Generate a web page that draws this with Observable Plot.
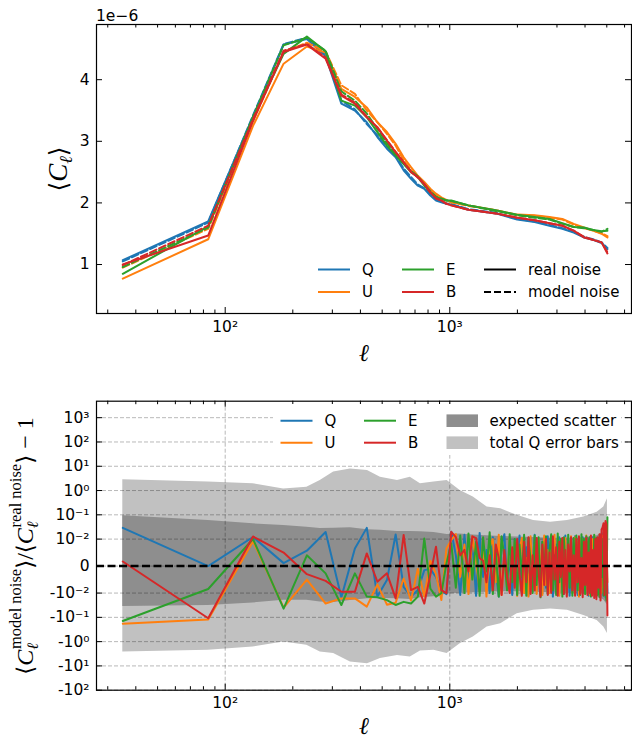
<!DOCTYPE html>
<html><head><meta charset="utf-8">
<script src="https://cdn.jsdelivr.net/npm/d3@7"></script>
<script src="https://cdn.jsdelivr.net/npm/@observablehq/plot@0.6"></script>
<style>
html,body{margin:0;padding:0;background:#fff;}
#wrap{position:relative;width:632px;height:739px;overflow:hidden;background:#fff;}
#wrap svg{position:absolute;left:0;}
</style></head><body><div id="wrap"></div>
<script>
// ---------------- DATA ----------------
const components = ["Q", "U", "E", "B"];
const componentColors = ["#1f77b4", "#ff7f0e", "#2ca02c", "#d62728"];

// top panel: <C_ell> in units of 1e-6
const ellTop = [35, 84, 133, 182, 231, 280, 329, 378, 427, 476,
  525, 574, 623, 672, 721, 770, 819, 868, 917, 966,
  1015, 1211, 1603, 1995, 2387, 2779, 3171, 3563, 3955, 4347, 4739, 5033];
const qReal  = [1.07, 1.70, 3.40, 4.57, 4.66, 4.38, 3.61, 3.50, 3.31, 3.07, 2.88, 2.74, 2.53, 2.39, 2.28, 2.23, 2.12, 2.04, 2.01, 1.985, 1.975, 1.89, 1.83, 1.73, 1.69, 1.63, 1.58, 1.52, 1.44, 1.40, 1.35, 1.25];
const qModel = [1.05, 1.68, 3.42, 4.58, 4.68, 4.40, 3.66, 3.52, 3.28, 3.10, 2.90, 2.76, 2.56, 2.42, 2.30, 2.24, 2.14, 2.05, 2.02, 1.99, 1.98, 1.90, 1.84, 1.74, 1.70, 1.64, 1.59, 1.53, 1.45, 1.41, 1.36, 1.27];
const uReal  = [0.77, 1.41, 3.25, 4.26, 4.54, 4.44, 3.85, 3.72, 3.55, 3.31, 3.15, 2.96, 2.74, 2.58, 2.44, 2.34, 2.23, 2.15, 2.09, 2.05, 2.01, 1.96, 1.88, 1.81, 1.80, 1.77, 1.74, 1.66, 1.60, 1.55, 1.50, 1.44];
const uModel = [0.95, 1.58, 3.33, 4.45, 4.60, 4.46, 3.91, 3.77, 3.50, 3.31, 3.12, 2.93, 2.69, 2.53, 2.42, 2.31, 2.20, 2.12, 2.07, 2.04, 2.01, 1.95, 1.88, 1.80, 1.79, 1.76, 1.73, 1.65, 1.59, 1.55, 1.51, 1.46];
const eReal  = [0.85, 1.62, 3.38, 4.42, 4.70, 4.46, 3.66, 3.58, 3.39, 3.15, 2.93, 2.77, 2.63, 2.50, 2.42, 2.28, 2.17, 2.09, 2.07, 2.04, 2.04, 1.96, 1.88, 1.81, 1.77, 1.74, 1.67, 1.61, 1.60, 1.56, 1.54, 1.55];
const eModel = [0.96, 1.60, 3.40, 4.56, 4.68, 4.47, 3.81, 3.66, 3.45, 3.20, 2.97, 2.80, 2.64, 2.52, 2.43, 2.30, 2.19, 2.10, 2.07, 2.04, 2.03, 1.96, 1.87, 1.80, 1.76, 1.73, 1.66, 1.61, 1.59, 1.56, 1.53, 1.58];
const bReal  = [1.00, 1.47, 3.33, 4.45, 4.57, 4.34, 3.74, 3.61, 3.39, 3.23, 3.01, 2.82, 2.66, 2.50, 2.42, 2.31, 2.17, 2.07, 2.04, 1.985, 1.96, 1.89, 1.83, 1.76, 1.72, 1.67, 1.63, 1.55, 1.44, 1.40, 1.36, 1.18];
const bModel = [0.99, 1.63, 3.36, 4.47, 4.58, 4.36, 3.76, 3.63, 3.40, 3.22, 3.02, 2.83, 2.66, 2.51, 2.41, 2.30, 2.17, 2.08, 2.04, 1.99, 1.96, 1.89, 1.83, 1.76, 1.72, 1.67, 1.63, 1.55, 1.45, 1.40, 1.36, 1.20];
const topYTicks = [1, 2, 3, 4];

// bottom panel: <C model>/<C real> - 1
const ell = [35, 84, 133, 182, 231, 280, 329, 378, 427, 476,
  525, 574, 623, 672, 721, 770, 819, 868, 917, 966,
  1015, 1064, 1113, 1162, 1211, 1260, 1309, 1358, 1407, 1456,
  1505, 1554, 1603, 1652, 1701, 1750, 1799, 1848, 1897, 1946,
  1995, 2044, 2093, 2142, 2191, 2240, 2289, 2338, 2387, 2436,
  2485, 2534, 2583, 2632, 2681, 2730, 2779, 2828, 2877, 2926,
  2975, 3024, 3073, 3122, 3171, 3220, 3269, 3318, 3367, 3416,
  3465, 3514, 3563, 3612, 3661, 3710, 3759, 3808, 3857, 3906,
  3955, 4004, 4053, 4102, 4151, 4200, 4249, 4298, 4347, 4396,
  4445, 4494, 4543, 4592, 4641, 4690, 4739, 4788, 4837, 4886,
  4935, 4984, 5033];
const ratioQ = [0.029, 0.0, 0.0122, 0.0011, 0.0057, 0.0195, -0.0148, 0.0065, 0.029, -0.014,
  -0.0052, 0.0155, -0.0077, -0.014, -0.0089, -0.0015, -0.0011, -0.004, -0.009, -0.011, 0.020,
  0.004, -0.012, 0.015, -0.006, 0.009, -0.013, 0.018, -0.004, 0.006, -0.010,
  0.012, -0.002, -0.014, 0.008, 0.016, -0.007, 0.003, -0.012, 0.010, -0.005,
  0.014, -0.011, 0.002, 0.007, -0.013, 0.011, -0.003, 0.015, -0.009, 0.005,
  -0.012, 0.009, 0.001, -0.008, 0.013, -0.006, 0.010, -0.014, 0.004, 0.008,
  -0.010, 0.012, -0.004, 0.006, -0.011, 0.014, -0.007, 0.002, -0.013, 0.011,
  0.005, -0.009, 0.013, -0.002, -0.012, 0.009, 0.004, -0.008, 0.012, -0.010,
  0.006, -0.005, 0.011, -0.013, 0.003, 0.008, -0.009, 0.012, -0.006, 0.010,
  -0.014, 0.005, 0.009, -0.011, 0.013, -0.008, 0.016, -0.012, 0.020, -0.015,
  0.025, -0.010];
const ratioU = [-0.182, -0.123, 0.0092, -0.040, -0.005, -0.027, -0.0166, -0.0166, -0.036, -0.0068,
  -0.030, -0.025, -0.0046, -0.020, -0.001, -0.014, 0.002, -0.003, -0.0195, 0.0065, 0.0096,
  0.016, -0.004, 0.008, -0.011, 0.013, 0.002, -0.009, 0.011, -0.014, 0.007,
  0.010, -0.006, 0.015, -0.012, 0.004, -0.008, 0.012, -0.003, 0.009, -0.013,
  0.006, 0.011, -0.010, 0.003, -0.014, 0.013, -0.005, 0.008, -0.011, 0.010,
  0.001, -0.012, 0.014, -0.007, 0.006, -0.010, 0.012, -0.004, 0.015, -0.009,
  0.003, -0.013, 0.010, 0.005, -0.008, 0.011, -0.012, 0.007, -0.003, 0.013,
  -0.010, 0.004, 0.012, -0.006, 0.009, -0.014, 0.002, 0.011, -0.008, 0.006,
  -0.011, 0.014, -0.005, 0.008, -0.012, 0.003, 0.010, -0.009, 0.013, -0.004,
  0.007, -0.012, 0.011, -0.006, 0.009, -0.010, 0.014, -0.008, 0.012, -0.011,
  0.018, -0.006];
const ratioE = [-0.141, -0.0085, 0.0101, -0.044, 0.004, -0.0027, -0.031, -0.0027, -0.014, -0.015,
  -0.0195, -0.031, -0.023, -0.027, -0.014, 0.0107, -0.0083, -0.014, -0.0102, 0.001, 0.0084,
  -0.008, 0.014, -0.010, 0.017, -0.005, 0.009, -0.013, 0.012, -0.002, 0.019,
  -0.011, 0.006, -0.014, 0.013, 0.003, -0.009, 0.016, -0.006, 0.010, -0.012,
  0.008, -0.004, 0.015, -0.013, 0.011, 0.002, -0.010, 0.014, -0.007, 0.012,
  -0.015, 0.009, -0.003, 0.013, -0.011, 0.006, 0.016, -0.009, 0.004, -0.012,
  0.017, -0.006, 0.010, -0.014, 0.012, 0.001, -0.010, 0.015, -0.008, 0.009,
  -0.013, 0.011, -0.004, 0.014, -0.009, 0.007, -0.012, 0.016, -0.002, 0.010,
  -0.011, 0.013, -0.007, 0.009, 0.012, -0.014, 0.005, -0.009, 0.015, -0.006,
  0.011, -0.012, 0.008, -0.015, 0.013, -0.004, 0.010, -0.013, 0.018, -0.010,
  -0.020, 0.080];
const ratioB = [0.0017, -0.109, 0.0128, 0.005, -0.003, -0.0055, -0.0095, -0.0095, 0.0047, -0.0058,
  -0.0027, -0.0166, 0.0148, -0.0089, -0.0077, -0.027, -0.0033, 0.0072, -0.0089, -0.0102, 0.0199,
  0.012, 0.004, 0.006, -0.002, 0.013, 0.011, 0.003, 0.002, -0.006, 0.004,
  -0.009, 0.008, 0.003, -0.012, 0.006, -0.004, -0.010, 0.007, -0.008, 0.010,
  -0.003, -0.013, 0.009, -0.006, 0.012, -0.011, 0.004, -0.009, 0.011, -0.002,
  -0.014, 0.008, -0.007, 0.010, -0.012, 0.005, -0.010, 0.013, -0.005, 0.007,
  -0.013, 0.009, -0.004, 0.011, -0.011, 0.006, -0.014, 0.008, -0.002, 0.012,
  -0.009, 0.004, -0.013, 0.010, -0.006, 0.013, -0.011, 0.003, -0.015, 0.009,
  -0.007, 0.011, -0.012, 0.005, -0.010, 0.014, -0.013, 0.006, -0.016, 0.010,
  -0.018, 0.012, -0.008, 0.016, -0.020, 0.025, 0.030, 0.045, -0.012, 0.055,
  0.040, -0.083];

// bands (total Q error bars, expected scatter)
const ellBand = [35, 84, 133, 182, 231, 265, 304, 361, 430, 491,
  585, 667, 740, 850, 973, 1112, 1272, 1466, 1686, 1995,
  2360, 2810, 3340, 3950, 4530, 4850, 5033];
const totalHi = [2.75, 2.23, 1.90, 1.17, 1.38, 2.62, 5.74, 7.74, 6.75, 3.54,
  2.62, 3.54, 1.90, 2.23, 2.62, 1.00, 0.536, 0.208, 0.177, 0.095,
  0.059, 0.050, 0.059, 0.081, 0.129, 0.208, 0.456];
const totalLo = [-2.68, -2.29, -1.66, -1.04, -1.41, -2.68, -3.08, -6.90, -8.11, -5.0,
  -3.71, -4.26, -2.45, -2.29, -3.08, -1.23, -0.644, -0.251, -0.182, -0.071,
  -0.051, -0.045, -0.051, -0.083, -0.135, -0.251, -0.467];
const expectedHi = [0.091, 0.0587, 0.0426, 0.0362, 0.0308, 0.0275, 0.0281, 0.0294, 0.0245, 0.0234,
  0.0204, 0.0204, 0.0199, 0.0186, 0.0155, 0.0162, 0.0148, 0.0138, 0.0129, 0.0123,
  0.0117, 0.0109, 0.0109, 0.0115, 0.0138, 0.0195, 0.0426];
const expectedLo = [-0.0354, -0.0323, -0.0256, -0.0199, -0.0199, -0.0234, -0.0245, -0.0204, -0.0173, -0.0166,
  -0.0173, -0.0186, -0.0155, -0.0141, -0.0109, -0.0102, -0.0099, -0.0097, -0.0095, -0.0095,
  -0.0097, -0.0099, -0.0102, -0.0109, -0.0138, -0.0195, -0.0308];

const botYTickValues = [-100, -10, -1, -0.1, -0.01, 0, 0.01, 0.1, 1, 10, 100, 1000];
const botYTickLabels = ["-10²", "-10¹", "-10⁰", "-10⁻¹", "-10⁻²", "0", "10⁻²", "10⁻¹", "10⁰", "10¹", "10²", "10³"];
const xMajor = [100, 1000];
const xTickLabels = ["10²", "10³"];
const xMinor = [30, 40, 50, 60, 70, 80, 90, 200, 300, 400, 500, 600, 700, 800, 900, 2000, 3000, 4000, 5000, 6000];

// ---------------- SCALES / HELPERS ----------------
const X_DOMAIN = [26.73, 6442];
const Y_TOP = [0.205, 4.896];
const LINTHRESH = 0.01, LINSCALE = 1 / (1 - 0.1);
const symlog = v => { const a = Math.abs(v); const s = a <= LINTHRESH ? a / LINTHRESH * LINSCALE : LINSCALE + Math.log10(a / LINTHRESH); return Math.sign(v) * s; };
const Y_BOT = [symlog(-100), 6.79];
const W = 632, ML = 96, MR = 1;
const plotW = W - ML - MR;
const font = "'DejaVu Sans', sans-serif";

function frameTicks(yDom, plotH, yMajor) {
  const dy = L => L * (yDom[1] - yDom[0]) / plotH;
  const fx = L => Math.pow(X_DOMAIN[1] / X_DOMAIN[0], L / plotW);
  const st = {stroke: "black", strokeWidth: 1};
  return [
    Plot.ruleX(xMajor, {x: d => d, y1: yDom[0], y2: yDom[0] + dy(6), ...st}),
    Plot.ruleX(xMajor, {x: d => d, y1: yDom[1] - dy(6), y2: yDom[1], ...st}),
    Plot.ruleX(xMinor, {x: d => d, y1: yDom[0], y2: yDom[0] + dy(3.5), ...st}),
    Plot.ruleX(xMinor, {x: d => d, y1: yDom[1] - dy(3.5), y2: yDom[1], ...st}),
    Plot.ruleY(yMajor, {y: d => d, x1: X_DOMAIN[0], x2: X_DOMAIN[0] * fx(6), ...st}),
    Plot.ruleY(yMajor, {y: d => d, x1: X_DOMAIN[1] / fx(6), x2: X_DOMAIN[1], ...st})
  ];
}
const xLab = new Map(xMajor.map((d, i) => [d, xTickLabels[i]]));

// ---------------- TOP PLOT ----------------
const topSeries = [["Q", qReal, qModel], ["U", uReal, uModel], ["E", eReal, eModel], ["B", bReal, bModel]];
const topLines = [];
for (const [c, real, model] of topSeries) {
  const rr = ellTop.map((l, i) => ({ell: l, v: real[i], c}));
  const mr = ellTop.map((l, i) => ({ell: l, v: model[i], c}));
  topLines.push(Plot.line(rr, {x: "ell", y: "v", stroke: "c", strokeWidth: 2}));
  topLines.push(Plot.line(mr, {x: "ell", y: "v", stroke: "c", strokeWidth: 2, strokeDasharray: "7,3"}));
}
const TOP_H = 370, TOP_MT = 24, TOP_MB = 57;
const topPlot = Plot.plot({
  width: W, height: TOP_H, marginLeft: ML, marginRight: MR, marginTop: TOP_MT, marginBottom: TOP_MB,
  style: {fontFamily: font, fontSize: "15px", background: "transparent", overflow: "visible"},
  x: {type: "log", domain: X_DOMAIN, label: null},
  y: {domain: Y_TOP, label: null},
  color: {domain: components, range: componentColors},
  marks: [
    ...topLines,
    Plot.frame({stroke: "black", strokeWidth: 1.2}),
    ...frameTicks(Y_TOP, TOP_H - TOP_MT - TOP_MB, topYTicks),
    Plot.axisX(xMajor, {tickSize: 0, tickPadding: 7, tickFormat: d => xLab.get(d), fontSize: 15.5, label: null}),
    Plot.axisY(topYTicks, {tickSize: 0, tickPadding: 7, tickFormat: d => String(d), fontSize: 15.5, label: null})
  ]
});

// ---------------- BOTTOM PLOT ----------------
const bandRows = ellBand.map((l, i) => ({ell: l, tLo: totalLo[i], tHi: totalHi[i], eLo: expectedLo[i], eHi: expectedHi[i]}));
const ratios = [["Q", ratioQ], ["U", ratioU], ["E", ratioE], ["B", ratioB]];
const botLines = ratios.map(([c, arr]) => Plot.line(ell.map((l, i) => ({ell: l, v: arr[i], c})).filter(d => d.v !== undefined),
  {x: "ell", y: d => symlog(d.v), stroke: "c", strokeWidth: 2}));
const sTicks = botYTickValues.map(symlog);
const botLab = new Map(sTicks.map((s, i) => [s, botYTickLabels[i]]));
const BOT_H = 369, BOT_MT = 30.7, BOT_MB = 49.3;
const gridStyle = {stroke: "black", strokeOpacity: 0.28, strokeWidth: 1, strokeDasharray: "4,2"};
const botPlot = Plot.plot({
  width: W, height: BOT_H, marginLeft: ML, marginRight: MR, marginTop: BOT_MT, marginBottom: BOT_MB,
  style: {fontFamily: font, fontSize: "15px", background: "transparent", overflow: "visible"},
  x: {type: "log", domain: X_DOMAIN, label: null},
  y: {domain: Y_BOT, label: null},
  color: {domain: components, range: componentColors},
  marks: [
    Plot.areaY(bandRows, {x: "ell", y1: d => symlog(d.tLo), y2: d => symlog(d.tHi), fill: "#c1c1c1"}),
    Plot.areaY(bandRows, {x: "ell", y1: d => symlog(d.eLo), y2: d => symlog(d.eHi), fill: "#8e8e8e"}),
    Plot.ruleY(sTicks, {y: d => d, ...gridStyle}),
    Plot.ruleX(xMajor, {x: d => d, ...gridStyle}),
    ...botLines,
    Plot.ruleY([0], {y: d => d, stroke: "black", strokeWidth: 2.5, strokeDasharray: "8,3.5"}),
    Plot.frame({stroke: "black", strokeWidth: 1.2}),
    ...frameTicks(Y_BOT, BOT_H - BOT_MT - BOT_MB, sTicks),
    Plot.axisX(xMajor, {tickSize: 0, tickPadding: 7, tickFormat: d => xLab.get(d), fontSize: 15.5, label: null}),
    Plot.axisY(sTicks, {tickSize: 0, tickPadding: 7, tickFormat: d => botLab.get(d), fontSize: 15.5, label: null})
  ]
});

const wrap = document.getElementById("wrap");
topPlot.style.top = "0px";
botPlot.style.top = TOP_H + "px";
wrap.appendChild(topPlot);
wrap.appendChild(botPlot);

// ---------------- OVERLAY: labels & legends ----------------
const ov = d3.select(wrap).append("svg").attr("width", W).attr("height", 739).style("top", "0px");
const serif = "'Liberation Serif', 'DejaVu Serif', serif";

ov.append("text").attr("x", 96).attr("y", 20.5).attr("font-family", font).attr("font-size", 15.5).text("1e\u22126");

// top y label
{
  const t = ov.append("text").attr("transform", "translate(67,169) rotate(-90)").attr("text-anchor", "middle")
    .attr("font-family", serif).attr("font-size", 27);
  t.append("tspan").attr("font-family", font).attr("font-size", 25).text("⟨");
  t.append("tspan").attr("font-style", "italic").text("C");
  t.append("tspan").attr("font-style", "italic").attr("font-size", 18).attr("dy", 5).text("ℓ");
  t.append("tspan").attr("font-family", font).attr("font-size", 25).attr("dy", -5).text("⟩");
}
// bottom y label
{
  const t = ov.append("text").attr("transform", "translate(33,546) rotate(-90)").attr("text-anchor", "middle")
    .attr("font-family", serif).attr("font-size", 24);
  const part = (sup) => {
    t.append("tspan").attr("font-family", font).attr("font-size", 23).text("⟨");
    t.append("tspan").attr("font-style", "italic").text("C");
    t.append("tspan").attr("font-style", "italic").attr("font-size", 16).attr("dy", 5).text("ℓ");
    t.append("tspan").attr("font-size", 16.5).attr("dx", -6).attr("dy", -17).text(sup);
    t.append("tspan").attr("font-family", font).attr("font-size", 23).attr("dy", 12).text("⟩");
  };
  part("model noise");
  t.append("tspan").text("/");
  part("real noise");
  t.append("tspan").text(" \u2212 1");
}
// x labels
ov.append("text").attr("x", 364).attr("y", 361).attr("text-anchor", "middle").attr("font-family", serif)
  .attr("font-style", "italic").attr("font-size", 24).text("ℓ");
ov.append("text").attr("x", 364).attr("y", 734).attr("text-anchor", "middle").attr("font-family", serif)
  .attr("font-style", "italic").attr("font-size", 24).text("ℓ");

function legLine(x, y, color, dash, label) {
  ov.append("line").attr("x1", x).attr("x2", x + 32).attr("y1", y).attr("y2", y)
    .attr("stroke", color).attr("stroke-width", 2).attr("stroke-dasharray", dash || null);
  ov.append("text").attr("x", x + 44).attr("y", y).attr("dy", "0.36em").attr("font-family", font).attr("font-size", 15).text(label);
}
function legPatch(x, y, color, label) {
  ov.append("rect").attr("x", x).attr("y", y - 6.3).attr("width", 31.5).attr("height", 12.6).attr("fill", color);
  ov.append("text").attr("x", x + 43).attr("y", y).attr("dy", "0.36em").attr("font-family", font).attr("font-size", 15).text(label);
}
// top legend
legLine(318, 269.5, componentColors[0], null, "Q");
legLine(318, 292, componentColors[1], null, "U");
legLine(402, 269.5, componentColors[2], null, "E");
legLine(402, 292, componentColors[3], null, "B");
legLine(484, 269.5, "black", null, "real noise");
legLine(484, 292, "black", "7,3", "model noise");
// bottom legend
ov.append("rect").attr("x", 273).attr("y", 404).attr("width", 348).attr("height", 51).attr("fill", "white");
legLine(280.5, 420.7, componentColors[0], null, "Q");
legLine(280.5, 442.7, componentColors[1], null, "U");
legLine(364, 420.7, componentColors[2], null, "E");
legLine(364, 442.7, componentColors[3], null, "B");
legPatch(446.5, 420.7, "#8e8e8e", "expected scatter");
legPatch(446.5, 442.7, "#c1c1c1", "total Q error bars");
</script></body></html>
